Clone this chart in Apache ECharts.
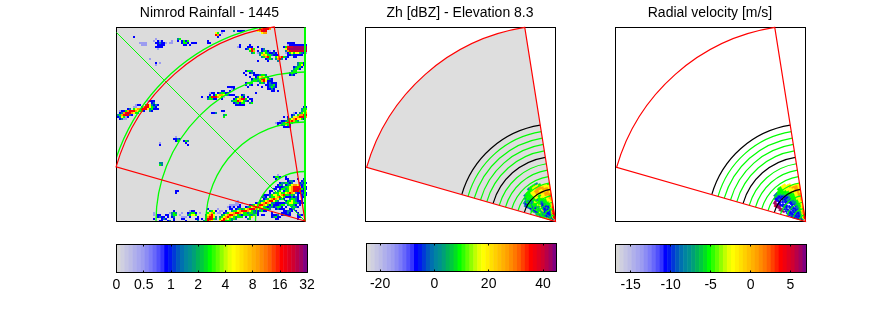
<!DOCTYPE html>
<html>
<head>
<meta charset="utf-8">
<title>Nimrod rainfall and radar</title>
<style>
  html, body { margin: 0; padding: 0; background: #fff; }
  #chart { width: 889px; height: 333px; }
</style>
<script src="https://cdn.jsdelivr.net/npm/echarts@6/dist/echarts.min.js"></script>
</head>
<body>
<div id="chart"></div>
<script>
// colour scale, one entry per colourbar band
const palette = [
  "#d8d8d8","#cfcfe0","#c5c5e4","#bcbce6","#b0b0ea","#a6a6ee","#9c9cf0","#8c8cf4",
  "#7c7cf8","#6868fa","#5050fc","#3434fe","#0000ff","#0018f0","#0038d8","#0058c0",
  "#0070b0","#0084a0","#009090","#00a078","#00b458","#00c840","#00e020","#00ff00",
  "#30ff00","#60ff00","#90ff00","#c0ff00","#e8ff00","#ffff00","#fff000","#ffe000",
  "#ffd000","#ffc000","#ffb000","#ffa000","#ff8c00","#ff7800","#ff6000","#ff4000",
  "#ff2000","#ff0000","#f00010","#e00020","#d00030","#b80048","#a00060","#800080"
];
// level digit in the cell data -> palette band
const levelBands = [0, 6, 12, 17, 23, 29, 35, 41, 44, 46];

const titles = ["Nimrod Rainfall - 1445", "Zh [dBZ] - Elevation 8.3", "Radial velocity [m/s]"];

const rainTicks = [0, 1, 2, 3, 4, 5, 6, 7];
const rainTickLabels = ["0", "0.5", "1", "2", "4", "8", "16", "32"];
const zhTicks = [-20, 0, 20, 40];
const velTicks = [-15, -10, -5, 0, 5];

// radar scan sector: azimuths in degrees and outer range
const sectorAz = [286, 351];
const sectorRange = 196.5;

const rainGreenRings = [49.5, 99, 149, 199];
const rainSpokes = [315, 360];
const gateGreenRings = [6.5, 13, 19.5, 26, 39, 45.5, 52, 58.5, 71.5, 78, 84.5, 91];
const gateBlackRings = [32.5, 65, 97.5];

// light edges of the rain areas, [row, first column, levels]
const rainFringe = [
  [36,15,"1222"],[38,9,"122"],[38,18,"232"],[39,18,"22"],[40,19,"22"],[41,1,"12"],[44,4,"12"],[45,3,"11"],
  [32,46,"12"],[32,54,"22"],[33,55,"222"],[35,48,"22"],[34,53,"1"],[35,52,"2"],[33,57,"22"],[38,59,"22"],[36,67,"2"],
  [10,64,"2"],[8,66,"2"],[9,66,"22"],[9,70,"2"],[12,77,"232"],[13,78,"22"],[16,70,"2"],[11,78,"2"],[12,70,"1"],
  [7,85,"2222"],[9,83,"2"],[12,84,"1"],[13,92,"2"],[14,84,"22"],[6,18,"1"],[9,21,"22"],[10,20,"1"],[7,24,"1"],[8,34,"1"],
  [22,68,"2"],[23,68,"22"],[24,66,"2"],[25,75,"2"],[28,70,"2"],[29,72,"2"],[26,75,"2"],[27,79,"2"],
  [42,88,"1"],[46,81,"12"],[47,79,"12"],[48,80,"2"],[49,83,"222"],[44,83,"2"],
  [86,60,"1"],[87,62,"1"],[88,58,"11"],[90,50,"1"],[91,51,"11"],[92,50,"11"],[92,18,"1"],[93,18,"1"],[92,26,"1"],[91,28,"2"],
  [92,32,"1"],[91,36,"12"],[91,38,"2"],[92,41,"1"],[94,32,"1"],[94,33,"11"],[94,60,"22"],[95,58,"22"],[96,56,"22"],[96,28,"2"],[96,34,"2"],
  [93,64,"2"],[94,64,"2"],[92,69,"22"],[93,72,"22"],[91,74,"2"],[92,85,"22"],[93,86,"2"],[90,83,"2"],[91,83,"23"],[73,80,"1"],
  [74,84,"2"],[75,84,"22"],[75,90,"2"],[75,93,"2"],[86,90,"2"],[87,92,"22"],[88,91,"2"],[85,92,"2"],[84,90,"1"],
  [87,72,"344"],[87,76,"4"],[88,69,"34"],[88,76,"344"],[89,70,"3"],[89,76,"33"],[90,64,"4"],[90,73,"4443"],[91,71,"344"],[92,58,"33"],
  [92,66,"444"],[93,63,"4443"],[94,60,"444"],[95,57,"443"],[96,55,"443"],[86,74,"4"],[85,79,"4"],[84,72,"23"],[83,73,"22"],[82,80,"44"],
  [84,85,"2"],[80,89,"4"],[79,83,"3"],[78,87,"4"],[77,87,"3"],[81,76,"22"],[80,78,"22"],[79,80,"22"],[85,89,"22"],[86,90,"222"],
  [87,82,"22"],[88,78,"22"],[90,82,"22"],[91,84,"2332"],[92,84,"232"],[93,85,"22"],[89,84,"2"],[83,87,"43"],[84,89,"32"],[82,90,"22"],[81,90,"4"]
];

// Nimrod cells as [row, first column, levels]
const rainRuns = [
  [0,71,"467876"],[1,52,"22"],[1,58,"3"],[1,60,"2222"],[1,70,"56787"],[2,49,"54"],[2,52,"1"],[2,72,"566"],
  [3,49,"762"],[4,8,"2"],[4,50,"2"],[5,19,"1"],[5,30,"34"],[6,20,"212"],[6,27,"1"],[6,30,"2"],[6,32,"2424"],[6,45,"2"],
  [7,11,"1111"],[7,19,"22322"],[7,26,"11"],[7,32,"2442"],[7,37,"222"],[7,45,"22"],[8,12,"111"],[8,20,"2222"],[8,33,"22"],
  [8,36,"2"],[8,61,"2"],[8,85,"1222222222"],[9,19,"22"],[9,60,"12"],[9,65,"2"],[9,84,"47889999999"],
  [10,65,"3574"],[10,72,"23"],[10,84,"58999999999"],[11,66,"476"],[11,70,"2"],[11,72,"2342"],[11,76,"1"],[11,84,"36788888888"],
  [12,67,"34"],[12,71,"345432"],[12,85,"2454554321"],[13,71,"3565443"],[13,80,"2"],[13,85,"2232222"],
  [14,72,"34674"],[14,79,"4567432"],[14,88,"22"],[15,16,"1"],[15,74,"2343"],[15,79,"3673"],[15,84,"2"],[16,75,"2"],[16,80,"3"],
  [17,19,"2"],[17,21,"1"],[17,90,"3442"],[18,19,"1"],[18,90,"3452"],[19,88,"23442"],[20,88,"3442"],[21,87,"344"],[21,64,"2443"],
  [22,86,"2432"],[22,63,"2"],[22,66,"23"],[23,86,"232"],[23,70,"23443"],[23,64,"2"],[24,69,"2456542"],[25,67,"243"],[25,70,"35775432"],
  [26,67,"3443"],[26,71,"4675"],[26,76,"22"],[27,64,"24"],[27,66,"44"],[27,71,"343"],[27,75,"2322"],[28,64,"2"],[28,66,"32"],[28,74,"223342"],
  [29,55,"2222"],[29,65,"2"],[29,75,"23432"],[30,57,"12"],[30,75,"2232"],[31,52,"22"],[31,56,"2"],[31,77,"22"],[31,80,"2"],
  [32,48,"2"],[32,50,"2344"],[32,69,"2"],[33,46,"2"],[33,48,"2456654"],[33,55,"3"],[33,62,"23"],
  [34,42,"2"],[34,45,"24787654"],[34,59,"23542"],[34,65,"2"],[35,45,"344"],[35,58,"2456784"],[35,66,"22"],
  [36,57,"3447654"],[36,64,"32"],[37,17,"23"],[37,58,"2342"],[37,62,"44"],[37,66,"34"],[38,14,"4753"],[38,61,"22"],[38,63,"2"],
  [39,8,"11"],[39,12,"3677543"],[39,93,"22"],[40,5,"23"],[40,8,"45667775"],[40,16,"342"],[40,92,"344"],
  [41,3,"2467776"],[41,10,"5442"],[41,16,"32"],[41,52,"22"],[41,92,"345"],[42,1,"23678765"],[42,9,"43"],[42,47,"223"],[42,89,"2"],[42,91,"3456"],
  [43,0,"346787"],[43,6,"32"],[43,53,"34"],[43,87,"23"],[43,90,"46677"],[44,0,"2354"],[44,53,"4"],[44,85,"2"],[44,87,"35567876"],
  [45,1,"23"],[45,85,"345675542"],[46,83,"23467643"],[47,81,"2346764"],[48,82,"23542"],[49,85,"22"],
  [54,29,"1"],[55,28,"2232"],[56,29,"24"],[56,33,"243"],[57,21,"1"],[57,34,"2"],[58,21,"2"],[58,35,"2"],
  [67,21,"33"],[68,21,"43"],[74,78,"2442"],[75,79,"21"],[76,85,"2332"],[76,92,"23"],[77,81,"233432"],[77,91,"2322"],
  [78,80,"243"],[78,84,"23456653"],[78,92,"23"],[79,79,"2"],[79,82,"2344"],[79,86,"567776"],[79,92,"232"],
  [80,81,"2443"],[80,85,"45677874"],[80,93,"22"],[81,29,"22"],[81,80,"34"],[81,83,"2445"],[81,87,"6787"],[81,91,"42"],[81,93,"2"],
  [82,29,"2"],[82,76,"2"],[82,78,"3445"],[82,82,"44567"],[82,87,"653"],[82,92,"322"],[83,75,"23"],[83,77,"4554"],[83,81,"5674"],[83,85,"43"],[83,90,"2"],[83,92,"232"],
  [84,74,"2"],[84,76,"344"],[84,79,"5675"],[84,83,"42"],[84,86,"232"],[84,92,"22"],[85,73,"23"],[85,75,"45"],[85,77,"6765"],[85,81,"342"],[85,86,"34432"],
  [86,71,"2"],[86,72,"345"],[86,75,"6775"],[86,79,"43"],[86,84,"2"],[86,85,"44543"],
  [87,59,"11"],[87,69,"2"],[87,70,"3456"],[87,74,"765"],[87,77,"33"],[87,79,"222"],[87,84,"34554432"],
  [88,56,"111"],[88,60,"12"],[88,66,"2"],[88,67,"3"],[88,68,"456"],[88,71,"7765"],[88,75,"42"],[88,80,"2344"],[88,85,"34432"],
  [89,55,"1212"],[89,60,"22"],[89,64,"234"],[89,67,"5677"],[89,71,"654"],[89,74,"32"],[89,78,"23442"],[89,87,"3432"],
  [90,45,"2"],[90,56,"22"],[90,59,"234"],[90,62,"3456"],[90,66,"7876"],[90,70,"543"],[90,79,"232"],[90,86,"223"],
  [91,46,"3"],[91,47,"45"],[91,49,"2"],[91,54,"2"],[91,57,"34"],[91,59,"4567"],[91,63,"7765"],[91,67,"4322"],[91,73,"2"],[91,89,"2"],
  [92,27,"343"],[92,35,"23442"],[92,45,"4564"],[92,53,"23"],[92,55,"45567"],[92,60,"7654"],[92,64,"43"],[92,68,"3"],[92,77,"2"],[92,82,"22"],[92,90,"2"],
  [93,20,"22"],[93,24,"22"],[93,27,"344"],[93,31,"1"],[93,35,"34554"],[93,44,"3"],[93,45,"5675"],[93,52,"3"],[93,53,"45677"],[93,58,"654"],[93,61,"32"],[93,67,"34"],[93,70,"2"],[93,77,"2223"],[93,82,"232"],[93,90,"232"],
  [94,20,"2322"],[94,25,"2"],[94,27,"23"],[94,36,"2"],[94,40,"2"],[94,44,"4"],[94,45,"677"],[94,48,"53"],[94,51,"3"],[94,52,"4567"],[94,56,"654"],[94,59,"3"],[94,66,"45"],[94,77,"23422"],[94,90,"22"],
  [95,18,"2"],[95,22,"232"],[95,28,"2"],[95,32,"22"],[95,39,"22"],[95,42,"2"],[95,44,"3"],[95,45,"787"],[95,48,"43"],[95,51,"45"],[95,53,"765"],[95,56,"43"],[95,65,"34"],[95,79,"22"],[95,90,"2"],
  [96,21,"22"],[96,25,"23"],[96,40,"3"],[96,43,"34"],[96,45,"765"],[96,51,"577"],[96,54,"4"]
];

// range gates, outermost first, one digit per azimuth step
const gateRanges = [42,40,38,36,34,32,30,28,26,24,22,20,18,16,14,12,10,8,6,4];
const zhGates = [
  "..........34443.....",".......344445554....","......34445556665554","....3344445566666555",
  "...32434445566556665","...24343445555665566","...34433445544556665","...24344543445556666",
  "..332344454444555567","..424234544334445566","..324443453234445556",".3424344532243444555",
  ".4345435432322344456","33444345322243224456","44433432232322334567","54332333222232234677",
  "65432233222223345677","76543234322324456777","77654323223345567887","87765432234456678788"
];
const velGates = [
  "..........4455......",".......334445555....","......23344455565555","....9922234445556665",
  "...89.23223444555665","...9922.232344455666","...992.2322234445565","..99.22.223334445566",
  "..99.232.23234445566","..9.2322..2233445556","...232.32.2233344556","..2.32.2232.23344555",
  ".23222.2322.23344455",".2322232232233344455","22322.22322.23344556","22232232222233445566",
  "32322.22322233445666","33223222223334455666","44322322333445556677","55432233344555666777"
];

const chart = echarts.init(document.getElementById("chart"));

const fontName = "Liberation Sans";
const rad = d => d * Math.PI / 180;
const polar = (api, r, az) => api.coord([r * Math.sin(rad(az)), r * Math.cos(rad(az))]);

const rainCells = [];
rainFringe.concat(rainRuns).forEach(([row, col, levels]) => {
  [...levels].forEach((c, i) => rainCells.push([col + i, row, +c]));
});

function gateCells(rows) {
  const step = (sectorAz[1] - sectorAz[0]) / 20;
  const out = [];
  rows.forEach((row, k) => {
    [...row].forEach((c, j) => {
      if (c !== ".") out.push([gateRanges[k], sectorAz[0] + j * step, +c, step]);
    });
  });
  return out;
}

const panels = [
  { left: 116.5, top: 27.5, w: 188.5, h: 193.5 },
  { left: 365.5, top: 27.5, w: 190, h: 194 },
  { left: 615.5, top: 27.5, w: 190, h: 194 }
];
const bars = [
  { left: 116.5, top: 244.5, w: 190.5, h: 28, min: 0, max: 7, ticks: rainTicks, labels: rainTickLabels },
  { left: 366.5, top: 243.5, w: 190, h: 28, min: -25, max: 45, ticks: zhTicks },
  { left: 615.5, top: 244.5, w: 191, h: 28, min: -16.9, max: 7, ticks: velTicks }
];

const grid = [], xAxis = [], yAxis = [], series = [];

function frameAxis(type, gridIndex, position, extra) {
  return Object.assign({
    type: "value", gridIndex, position, z: 5, splitLine: { show: false },
    axisLine: { show: true, onZero: false, lineStyle: { color: "#000", width: 1 } },
    axisTick: { show: false }, axisLabel: { show: false }
  }, extra);
}

panels.forEach((p, i) => {
  grid.push({ left: p.left, top: p.top, width: p.w, height: p.h, show: i === 0, backgroundColor: "#dcdcdc", borderWidth: 0 });
  const x = { min: -p.w, max: 0 }, y = { min: 0, max: p.h };
  xAxis.push(frameAxis("x", i, "bottom", x), frameAxis("x", i, "top", x));
  yAxis.push(frameAxis("y", i, "left", y), frameAxis("y", i, "right", y));
});

bars.forEach((b, i) => {
  const g = panels.length + i;
  grid.push({ left: b.left, top: b.top, width: b.w, height: b.h });
  const x = {
    min: b.min, max: b.max,
    axisTick: { show: true, inside: true, length: 2, customValues: b.ticks, lineStyle: { color: "#000" } }
  };
  const bottomLabel = {
    show: true, customValues: b.ticks, margin: 6, color: "#000", fontFamily: fontName, fontSize: 14,
    formatter: b.labels ? v => b.labels[v] : v => String(v)
  };
  xAxis.push(frameAxis("x", g, "bottom", Object.assign({}, x, { axisLabel: bottomLabel })), frameAxis("x", g, "top", x));
  const y = { min: 0, max: 1 };
  yAxis.push(frameAxis("y", g, "left", y), frameAxis("y", g, "right", y));
});

function axisRefs(i) {
  return { xAxisIndex: i * 2, yAxisIndex: i * 2, coordinateSystem: "cartesian2d" };
}

function sectorSeries(i, fill, stroke, z, width) {
  series.push(Object.assign(axisRefs(i), {
    type: "custom", z, silent: true, animation: false,
    data: [[sectorRange, sectorAz[0], sectorAz[1]]],
    encode: { x: 0, y: 1 },
    renderItem: (params, api) => {
      const c = api.coord([0, 0]);
      return {
        type: "sector",
        shape: { cx: c[0], cy: c[1], r: api.size([api.value(0), 0])[0], r0: 0,
                 startAngle: rad(api.value(1) - 90), endAngle: rad(api.value(2) - 90), clockwise: true },
        style: { fill, stroke, lineWidth: width }
      };
    }
  }));
}

function ringSeries(i, radii, azFrom, azTo, color, z, width) {
  series.push(Object.assign(axisRefs(i), {
    type: "custom", z, silent: true, animation: false, clip: true,
    data: radii.map(r => [r]),
    encode: { x: 0 },
    renderItem: (params, api) => {
      const c = api.coord([0, 0]);
      return {
        type: "arc",
        shape: { cx: c[0], cy: c[1], r: api.size([api.value(0), 0])[0],
                 startAngle: rad(azFrom - 90), endAngle: rad(azTo - 90), clockwise: true },
        style: { fill: null, stroke: color, lineWidth: width }
      };
    }
  }));
}

// panel 1
series.push(Object.assign(axisRefs(0), {
  type: "custom", z: 2, silent: true, animation: false,
  data: rainCells,
  encode: { x: 0, y: 1 },
  renderItem: (params, api) => {
    const w = panels[0].w / 94.25, pos = api.coord([api.value(0) * w - panels[0].w, panels[0].h - api.value(1) * 2]);
    return { type: "rect", shape: { x: Math.round(pos[0]), y: Math.round(pos[1]), width: 2, height: 2 },
             style: { fill: palette[levelBands[api.value(2)]] } };
  }
}));
ringSeries(0, rainGreenRings, 270, 360, "#00ff00", 3, 1.3);
series.push(Object.assign(axisRefs(0), {
  type: "custom", z: 6, silent: true, animation: false,
  data: rainSpokes.map(az => [az]),
  encode: { x: 0 },
  renderItem: (params, api) => {
    const az = api.value(0), c = api.coord([0, 0]);
    const e = polar(api, az === 360 ? panels[0].h : panels[0].w * Math.SQRT2, az);
    return { type: "line", shape: { x1: c[0], y1: c[1], x2: e[0], y2: e[1] },
             style: { stroke: "#00ff00", lineWidth: az === 360 ? 2 : 1 } };
  }
}));
sectorSeries(0, null, "#ff0000", 7, 1.2);

// panels 2 and 3
[zhGates, velGates].forEach((rows, n) => {
  const i = n + 1;
  if (n === 0) sectorSeries(i, "#dedede", null, 1, 0);
  series.push(Object.assign(axisRefs(i), {
    type: "custom", z: 2, silent: true, animation: false,
    data: gateCells(rows),
    encode: { x: 0, y: 1 },
    renderItem: (params, api) => {
      const r = api.value(0), az = api.value(1), s = api.value(3);
      const pts = [polar(api, r - 1, az), polar(api, r + 1, az), polar(api, r + 1, az + s), polar(api, r - 1, az + s)];
      const fill = palette[levelBands[api.value(2)]];
      return { type: "polygon", shape: { points: pts }, style: { fill, stroke: fill, lineWidth: 0.6 } };
    }
  }));
  ringSeries(i, gateGreenRings, sectorAz[0], sectorAz[1], "#00ff00", 3, 1.2);
  ringSeries(i, gateBlackRings, sectorAz[0], sectorAz[1], "#000", 4, 1.2);
  sectorSeries(i, null, "#ff0000", 7, 1.2);
});

// colourbars
bars.forEach((b, i) => {
  const n = palette.length, g = panels.length + i;
  series.push(Object.assign(axisRefs(g), {
    type: "custom", z: 2, silent: true, animation: false,
    data: palette.map((c, k) => [k]),
    encode: { x: 0 },
    renderItem: (params, api) => {
      const k = api.value(0), u = (b.max - b.min) / n;
      const a = api.coord([b.min + k * u, 1]), d = api.coord([b.min + (k + 1) * u, 0]);
      return { type: "rect", shape: { x: a[0], y: a[1], width: d[0] - a[0] + 0.5, height: d[1] - a[1] },
               style: { fill: palette[k] } };
    }
  }));
});

chart.setOption({
  animation: false,
  backgroundColor: "#fff",
  title: titles.map((t, i) => ({
    text: t, left: [204.5, 455, 705][i], top: 1, textAlign: "center",
    textStyle: { fontFamily: fontName, fontSize: 14, fontWeight: "normal", color: "#000" }
  })),
  grid, xAxis, yAxis, series
});

window.addEventListener("resize", () => chart.resize());
</script>
</body>
</html>
